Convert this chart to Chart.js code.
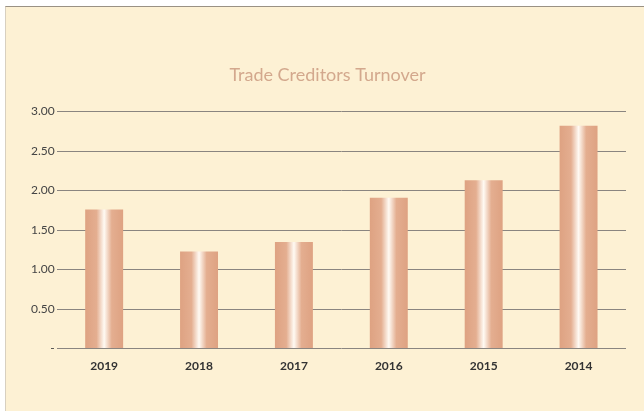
<!DOCTYPE html>
<html>
<head>
<meta charset="utf-8">
<script src="https://cdn.jsdelivr.net/npm/chart.js@4"></script>
<style>
  html, body { margin: 0; padding: 0; background: #fff; }
  #wrap {
    position: absolute; left: 5px; top: 6px; width: 639px; height: 405px;
    background: #fdf1d4; border-top: 1px solid #9a9184; border-left: 1px solid #d8d0c0;
    box-sizing: border-box;
  }
</style>
</head>
<body>
<div id="wrap"><canvas id="myChart" width="638" height="404"></canvas></div>
<script>
let years = ['2019', '2018', '2017', '2016', '2015', '2014'];
let turnover = [1.76, 1.23, 1.35, 1.91, 2.13, 2.82];
let yTicks = [0, 0.5, 1, 1.5, 2, 2.5, 3];

function barFill(ctx) {
  var chart = ctx.chart;
  var xs = chart.scales.x;
  if (!xs || ctx.dataIndex === undefined) return '#e0a882';
  var cx = xs.getPixelForValue(ctx.dataIndex);
  var w = (xs.width / years.length) * 0.4;
  if (!isFinite(cx) || !isFinite(w) || w <= 0) return '#e0a882';
  var g = chart.ctx.createLinearGradient(cx - w / 2, 0, cx + w / 2, 0);
  g.addColorStop(0, '#dea282');
  g.addColorStop(0.3, '#e4ae90');
  g.addColorStop(0.5, '#fffaf3');
  g.addColorStop(0.7, '#e4ae90');
  g.addColorStop(1, '#dea282');
  return g;
}

var ctx = document.getElementById('myChart').getContext('2d');
var myChart = new Chart(ctx, {
  type: 'bar',
  data: {
    labels: years,
    datasets: [{
      data: turnover,
      backgroundColor: barFill,
      barPercentage: 0.4,
      categoryPercentage: 1
    }]
  },
  options: {
    responsive: false,
    animation: false,
    layout: { padding: { left: 23, right: 18, top: 0, bottom: 36 } },
    plugins: {
      legend: { display: false },
      tooltip: { enabled: false },
      title: {
        display: true,
        text: 'Trade Creditors Turnover',
        color: '#d3a88d',
        font: { family: 'Lato', size: 18, weight: 'normal' },
        padding: { top: 57, bottom: 26 }
      }
    },
    scales: {
      x: {
        grid: { display: false },
        border: { display: false },
        ticks: { color: '#333', font: { family: 'Lato', size: 12, weight: 'bold' }, padding: 2 }
      },
      y: {
        min: 0,
        max: 3,
        afterBuildTicks: function (axis) {
          axis.ticks = yTicks.map(v => ({ value: v }));
        },
        grid: { color: '#8a8580', lineWidth: 1, drawTicks: false },
        border: { display: false },
        ticks: {
          color: '#444',
          font: { family: 'Lato', size: 12 },
          padding: 2,
          callback: function (v) { return v === 0 ? '-' : v.toFixed(2); }
        }
      }
    }
  }
});
</script>
</body>
</html>
